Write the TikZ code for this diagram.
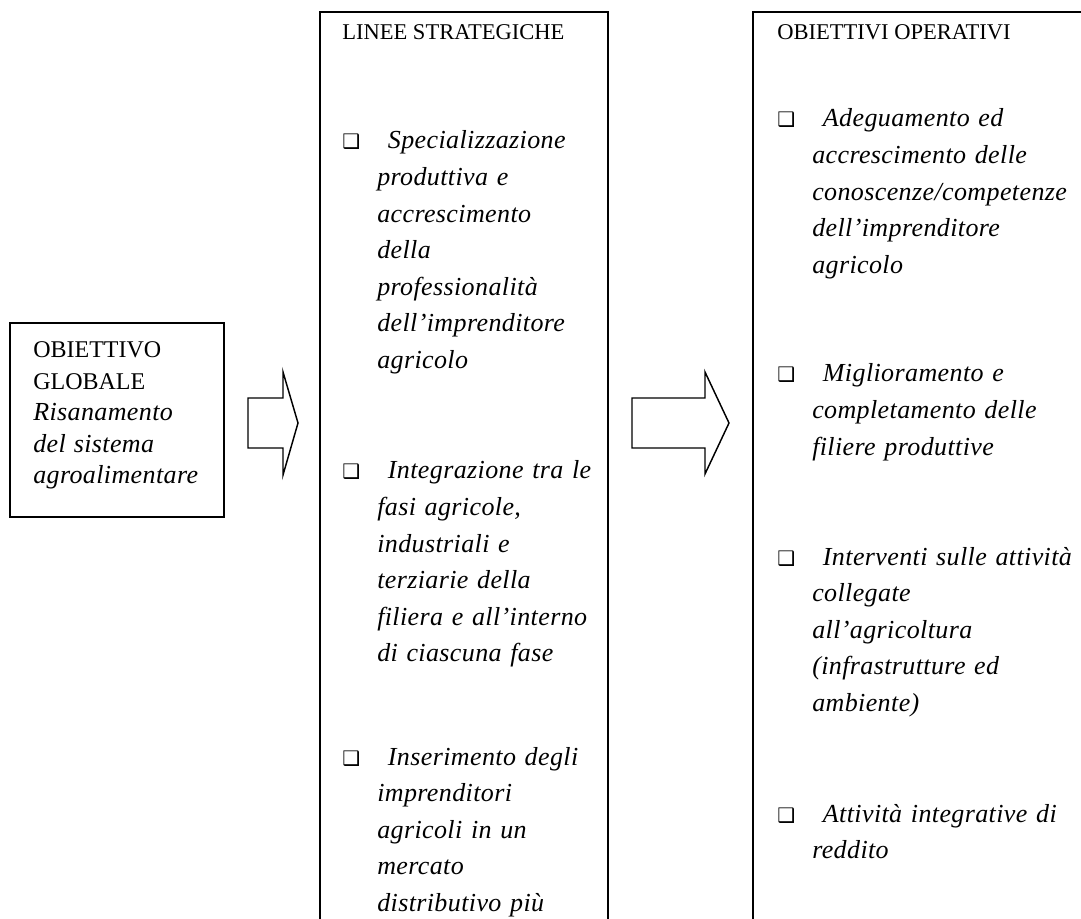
\documentclass[tikz,border=0pt]{standalone}
\usepackage{fontspec}
\setmainfont{Liberation Serif}
\newfontfamily\boxsymfont{DejaVu Sans}
\usepackage{tikz}
\usetikzlibrary{positioning}

\newcommand{\itemfont}{\fontsize{19.5}{27.4}\selectfont\itshape\addfontfeatures{LetterSpace=1.5}}
\newcommand{\checkbox}{{\boxsymfont\fontsize{15}{15}\selectfont ❑}}

\tikzset{
  boxline/.style={draw, line width=1.1pt},
  headtext/.style={anchor=base west, inner sep=0pt, font=\fontsize{16.9}{20}\selectfont},
  itemtext/.style={anchor=base west, inner sep=0pt, text width=230pt, align=left, font=\itemfont},
  bulletbox/.style={anchor=base west, inner sep=0pt},
}

\begin{document}
\begin{tikzpicture}[x=0.75pt, y=-0.75pt]
\clip (0,0) rectangle (1081,919);
\fill[white] (0,0) rectangle (1081,919);
% obiettivo globale
\draw[boxline] (10,323) rectangle (224,517);
\node[anchor=base west, inner sep=0pt, text width=150pt, align=left,
  font=\fontsize{18}{23.6}\selectfont] (globale) at (33,358)
  {OBIETTIVO\\ GLOBALE\\ {\itemfont Risanamento}\\ {\itemfont del sistema}\\ {\itemfont agroalimentare}};
% linee strategiche
\draw[boxline] (320,12) rectangle (608,960);
\node[headtext] (linee) at (342,40) {LINEE STRATEGICHE};
\node[bulletbox] (lb1) at (342,149) {\checkbox};
\node[itemtext] (linea1) at (377,149) {\hspace*{8pt}Specializzazione\\ produttiva e\\ accrescimento\\ della\\ professionalità\\ dell’imprenditore\\ agricolo};
\node[bulletbox] (lb2) at (342,479) {\checkbox};
\node[itemtext] (linea2) at (377,479) {\hspace*{8pt}Integrazione tra le\\ fasi agricole,\\ industriali e\\ terziarie della\\ filiera e all’interno\\ di ciascuna fase};
\node[bulletbox] (lb3) at (342,765) {\checkbox};
\node[itemtext] (linea3) at (377,765) {\hspace*{8pt}Inserimento degli\\ imprenditori\\ agricoli in un\\ mercato\\ distributivo più};
% obiettivi operativi
\draw[boxline] (753,12) rectangle (1100,960);
\node[headtext] (operativi) at (777,40) {OBIETTIVI OPERATIVI};
\node[bulletbox] (ob1) at (777,127) {\checkbox};
\node[itemtext] (obiettivo1) at (812,127) {\hspace*{8pt}Adeguamento ed\\ accrescimento delle\\ conoscenze/competenze\\ dell’imprenditore\\ agricolo};
\node[bulletbox] (ob2) at (777,382) {\checkbox};
\node[itemtext] (obiettivo2) at (812,382) {\hspace*{8pt}Miglioramento e\\ completamento delle\\ filiere produttive};
\node[bulletbox] (ob3) at (777,565) {\checkbox};
\node[itemtext] (obiettivo3) at (812,565) {\hspace*{8pt}Interventi sulle attività\\ collegate\\ all’agricoltura\\ (infrastrutture ed\\ ambiente)};
\node[bulletbox] (ob4) at (777,822) {\checkbox};
\node[itemtext] (obiettivo4) at (812,822) {\hspace*{8pt}Attività integrative di\\ reddito};
% arrows
\draw[boxline] (248,398) -- (283,398) -- (283,372) -- (298,423) -- (283,475) -- (283,448) -- (248,448) -- cycle;
\draw[boxline] (632,398) -- (705,398) -- (705,372) -- (729,423) -- (705,474) -- (705,448) -- (632,448) -- cycle;
\end{tikzpicture}
\end{document}
